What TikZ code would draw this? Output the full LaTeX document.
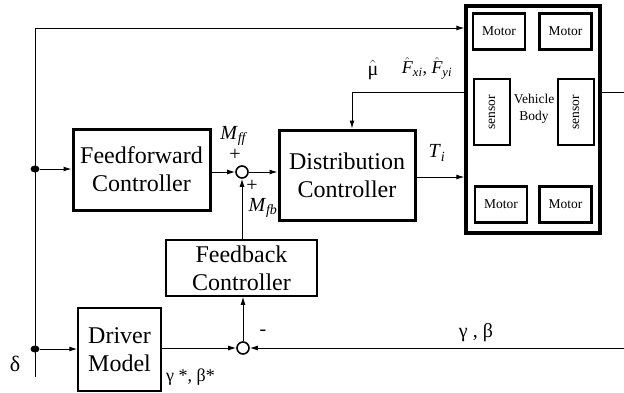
\documentclass[tikz,border=0pt]{standalone}
\usepackage{fontspec}
\setmainfont{Liberation Serif}[Ligatures=TeX]
\newfontfamily\tmsfont{Liberation Serif}
\usetikzlibrary{arrows.meta,shapes.geometric}
\newcommand{\subl}[2]{\textit{#1}\textsubscript{\textit{#2}}}
\newcommand{\hatF}{\ensuremath{\hat{\mbox{\tmsfont\itshape F}}}}
\begin{document}
\begin{tikzpicture}[x=1pt,y=-1pt,
  every node/.append style={font=\tmsfont},
  thickbox/.style={draw, line width=3pt, align=center, inner sep=0pt, font=\tmsfont\fontsize{24}{28}\selectfont},
  thinbox/.style={draw, line width=1.5pt, align=center, inner sep=0pt, font=\tmsfont\fontsize{24}{28}\selectfont},
  motorbox/.style={draw, line width=2.6pt, inner sep=0pt, minimum width=52pt, minimum height=36pt, font=\tmsfont\fontsize{13.5}{15}\selectfont},
  sensorbox/.style={draw, line width=1.3pt, inner sep=0pt, rotate=90, minimum width=66pt, minimum height=36pt, font=\tmsfont\fontsize{13.5}{15}\selectfont},
  sumnode/.style={circle, draw, line width=1.6pt, minimum size=12pt, inner sep=0pt},
  dotnode/.style={ellipse, fill, minimum width=9pt, minimum height=7pt, inner sep=0pt},
  arr/.style={-{Latex[length=8pt,width=5pt]}, line width=1pt},
  ln/.style={line width=1pt},
  lbl/.style={font=\tmsfont\fontsize{20}{22}\selectfont, inner sep=0pt}
]
\useasboundingbox (0,0) rectangle (624,392);
% blocks
\node[thickbox, minimum width=137pt, minimum height=81pt] (ff) at (141.5,169.5) {Feedforward\\Controller};
\node[thickbox, minimum width=136pt, minimum height=90pt] (dist) at (347,175) {Distribution\\Controller};
\node[thinbox, minimum width=151pt, minimum height=56pt] (fb) at (241.5,268) {Feedback\\Controller};
\node[thinbox, minimum width=83pt, minimum height=83pt] (drv) at (119.5,349.5) {Driver\\Model};
\node[draw, line width=3.2pt, minimum width=134pt, minimum height=227pt, inner sep=0pt] (veh) at (533,119.5) {};
\node[motorbox] (m1) at (499,31.5) {Motor};
\node[motorbox] (m2) at (565.5,31.5) {Motor};
\node[motorbox] (m3) at (501,204.5) {Motor};
\node[motorbox] (m4) at (565.5,204.5) {Motor};
\node[sensorbox] (s1b) at (492,112) {sensor};
\node[sensorbox] (s2b) at (576,112) {sensor};
\node[align=center, inner sep=0pt, font=\tmsfont\fontsize{13.5}{17}\selectfont] (vb) at (534,109) {Vehicle\\Body};
% junctions
\node[sumnode] (s1) at (242,172) {};
\node[sumnode] (s2) at (243,348) {};
\node[dotnode] (d1) at (35,169) {};
\node[dotnode] (d2) at (35,349) {};
\coordinate (top) at (35,28);
\coordinate (bot) at (35,377);
\coordinate (c1) at (352,92);
\coordinate (rout) at (624,92);
\coordinate (rin) at (624,348);
% connectors
\draw[ln] (top) -- (bot);
\draw[arr] (top) -- (top -| veh.west);
\draw[arr] (d1) -- (d1 -| ff.west);
\draw[arr] (d2) -- (d2 -| drv.west);
\draw[arr] (ff.east |- s1) -- (s1.west);
\draw[arr] (s1.east) -- (s1 -| dist.west);
\draw[arr] (fb.north -| s1) -- (s1.south);
\draw[arr] (drv.east |- s2) -- (s2.west);
\draw[arr] (s2.north) -- (s2 |- fb.south);
\draw[arr] (rin) -- (s2.east);
\draw[arr] ([yshift=-2pt]dist.east) -- ([yshift=-2pt]dist.east -| veh.west);
\draw[arr] (c1 -| veh.west) -- (c1) -- (c1 |- dist.north);
\draw[ln] (veh.east |- rout) -- (rout);
% labels
\node[lbl] (lmff) at (234,136) {\subl{M}{ff}};
\node[lbl] (lp1) at (235,155) {+};
\node[lbl] (lp2) at (252,186) {+};
\node[lbl] (lmfb) at (263,208) {\subl{M}{fb}};
\node[lbl] (lti) at (437,153) {\subl{T}{i}};
\node[lbl] (lmu) at (373,70) {\ensuremath{\hat{\mbox{\tmsfont μ}}}};
\node[lbl, font=\tmsfont\fontsize{18}{20}\selectfont] (lF) at (427,68) {\hatF\textsubscript{\itshape xi}, \hatF\textsubscript{\itshape yi}};
\node[lbl] (lgb) at (476,333) {γ , β};
\node[lbl] (lminus) at (263,333) {-};
\node[lbl, anchor=west, font=\tmsfont\fontsize{18}{20}\selectfont] (lgbs) at (166,377) {γ *, β*};
\node[lbl, font=\tmsfont\fontsize{22}{24}\selectfont] (ldelta) at (15,364) {δ};
\end{tikzpicture}
\end{document}
